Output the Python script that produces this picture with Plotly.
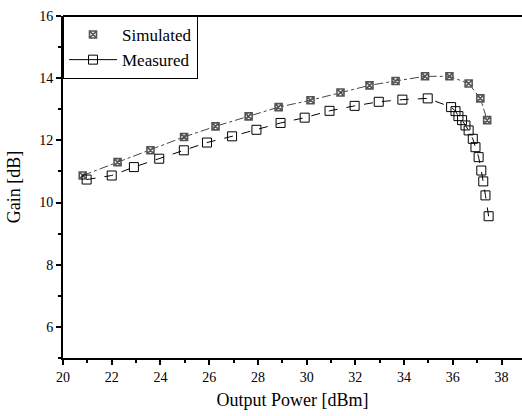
import plotly.graph_objects as go

sim_x = [20.81, 22.24, 23.59, 24.97, 26.26, 27.62, 28.85, 30.16, 31.39, 32.58, 33.65, 34.86, 35.86, 36.65, 37.13, 37.41]
sim_y = [10.87, 11.30, 11.68, 12.11, 12.45, 12.77, 13.07, 13.29, 13.54, 13.77, 13.91, 14.06, 14.06, 13.83, 13.35, 12.65]

meas_x = [20.97, 22.00, 22.91, 23.95, 24.96, 25.91, 26.94, 27.94, 28.93, 29.92, 30.94, 31.97, 32.96, 33.93, 34.97,
          35.93, 36.11, 36.23, 36.38, 36.52, 36.65, 36.82, 36.93, 37.06, 37.17, 37.25, 37.34, 37.47]
meas_y = [10.74, 10.87, 11.14, 11.41, 11.68, 11.93, 12.13, 12.34, 12.56, 12.73, 12.95, 13.11, 13.24, 13.31, 13.35,
          13.07, 12.94, 12.78, 12.65, 12.48, 12.32, 12.05, 11.78, 11.46, 11.03, 10.68, 10.23, 9.56]

x_ticks = [20, 22, 24, 26, 28, 30, 32, 34, 36, 38]
x_minor = [21, 23, 25, 27, 29, 31, 33, 35, 37]
y_ticks = [6, 8, 10, 12, 14, 16]
y_minor = [5, 7, 9, 11, 13, 15]

FONT = "Liberation Serif"
sim_marker = dict(symbol="square-x-open", size=7, color="#555555", line=dict(width=1.6, color="#555555"))
meas_marker = dict(symbol="square-open", size=9, color="black", line=dict(width=1, color="black"))

fig = go.Figure()
fig.add_trace(go.Scatter(x=sim_x, y=sim_y, mode="lines+markers", showlegend=False,
                         line=dict(color="#444444", width=1, dash="dashdot"), marker=sim_marker))
fig.add_trace(go.Scatter(x=meas_x, y=meas_y, mode="lines+markers", showlegend=False,
                         line=dict(color="black", width=1, dash="dash"), marker=meas_marker))
fig.add_trace(go.Scatter(x=[None], y=[None], mode="markers", name="Simulated", marker=sim_marker))
fig.add_trace(go.Scatter(x=[None], y=[None], mode="lines+markers", name="Measured",
                         line=dict(color="black", width=1), marker=meas_marker))

fig.add_shape(type="line", xref="paper", yref="paper", x0=0, x1=1, y0=1, y1=1,
              line=dict(color="black", width=2))

fig.update_layout(
    template="none",
    width=522, height=416,
    margin=dict(l=63, r=0, t=16, b=58),
    paper_bgcolor="white", plot_bgcolor="white",
    font=dict(family=FONT, color="black", size=14),
    legend=dict(x=0, y=1, xanchor="left", yanchor="top", bgcolor="white",
                bordercolor="black", borderwidth=1, font=dict(family=FONT, size=17),
                tracegroupgap=0, itemwidth=48),
    xaxis=dict(range=[20, 38.84], tickvals=x_ticks, ticks="outside", ticklen=5, tickwidth=1.5,
               tickcolor="black",
               showline=True, linecolor="black", linewidth=2, mirror=False, showgrid=False, zeroline=False,
               minor=dict(tickvals=x_minor, ticks="outside", ticklen=3, tickcolor="black", showgrid=False),
               title=dict(text="Output Power [dBm]", font=dict(size=18), standoff=10),
               tickfont=dict(size=14)),
    yaxis=dict(range=[5, 16], tickvals=y_ticks, ticks="outside", ticklen=5, tickwidth=1.5,
               tickcolor="black", mirror=False,
               showline=True, linecolor="black", linewidth=2, showgrid=False, zeroline=False,
               minor=dict(tickvals=y_minor, ticks="outside", ticklen=3, tickcolor="black", showgrid=False),
               title=dict(text="Gain [dB]", font=dict(size=18), standoff=14),
               tickfont=dict(size=14)),
)

fig.write_html("out.html")
